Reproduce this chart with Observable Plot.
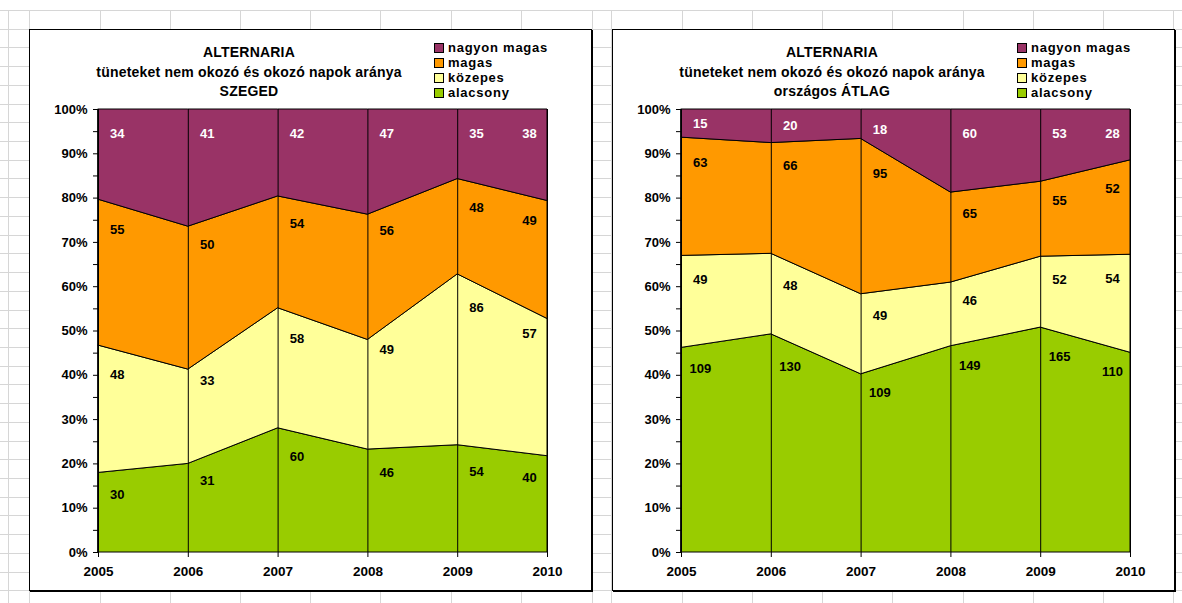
<!DOCTYPE html>
<html>
<head>
<meta charset="utf-8">
<script src="https://cdn.jsdelivr.net/npm/d3@7"></script>
<script src="https://cdn.jsdelivr.net/npm/@observablehq/plot@0.6"></script>
<style>
  html, body { margin: 0; padding: 0; background: #fff; }
  body { width: 1182px; height: 603px; position: relative; overflow: hidden;
         font-family: "Liberation Sans", Arial, sans-serif; }
  .hline { position: absolute; left: 0; width: 1182px; height: 1px; background: #d6d6d6; }
  .vline { position: absolute; top: 10px; width: 1px; height: 593px; background: #d6d6d6; }
  .box { position: absolute; top: 29px; width: 561px; height: 560px; background: #fff;
         border: 1px solid #000; box-shadow: 1px 1px 0 #000; }
  .title { position: absolute; left: 0; width: 438px; text-align: center; font-weight: bold;
           font-size: 14px; letter-spacing: 0.2px; line-height: 19.5px; top: 13px; color: #000; }
  .legend { position: absolute; left: 404px; top: 10px; font-weight: bold; font-size: 13px;
            letter-spacing: 0.75px; line-height: 15px; color: #000; }
  .legend .item { display: flex; align-items: center; white-space: nowrap; }
  .legend .sw { width: 8px; height: 8px; border: 1px solid #000; margin-right: 4px; }
  .box svg { position: absolute; left: 0; top: 0; }
</style>
</head>
<body>
<script>
// ---------- data ----------
const years = [2005, 2006, 2007, 2008, 2009, 2010];
const categories = ["alacsony", "közepes", "magas", "nagyon magas"]; // bottom -> top
const colors = ["#99CC00", "#FFFF99", "#FF9900", "#993366"];
const labelColors = ["#000", "#000", "#000", "#fff"];

const szegedAlacsony    = [30, 31, 60, 46, 54, 40];
const szegedKozepes     = [48, 33, 58, 49, 86, 57];
const szegedMagas       = [55, 50, 54, 56, 48, 49];
const szegedNagyonMagas = [34, 41, 42, 47, 35, 38];

const orszAlacsony    = [109, 130, 109, 149, 165, 110];
const orszKozepes     = [49, 48, 49, 46, 52, 54];
const orszMagas       = [63, 66, 95, 65, 55, 52];
const orszNagyonMagas = [15, 20, 18, 60, 53, 28];

const titleLine1 = "ALTERNARIA";
const titleLine2 = "tüneteket nem okozó és okozó napok aránya";
const panelNames = ["SZEGED", "országos ÁTLAG"];
const yTicks = [0, 0.1, 0.2, 0.3, 0.4, 0.5, 0.6, 0.7, 0.8, 0.9, 1];
const yMinorTicks = [0.05, 0.15, 0.25, 0.35, 0.45, 0.55, 0.65, 0.75, 0.85, 0.95];

const panels = [
  {name: panelNames[0], left: 29, series: [szegedAlacsony, szegedKozepes, szegedMagas, szegedNagyonMagas]},
  {name: panelNames[1], left: 612, series: [orszAlacsony, orszKozepes, orszMagas, orszNagyonMagas]}
];

// ---------- spreadsheet grid background ----------
const gridCols = [8, 29, 100, 170, 240, 310, 380, 451, 521, 592, 611, 682, 752, 822, 892, 963, 1033, 1103, 1173];
for (let y = 10; y < 603; y += 18.72) {
  const d = document.createElement("div"); d.className = "hline"; d.style.top = Math.round(y) + "px";
  document.body.appendChild(d);
}
for (const x of gridCols) {
  const d = document.createElement("div"); d.className = "vline"; d.style.left = x + "px";
  document.body.appendChild(d);
}

// ---------- panels ----------
const W = 561, H = 560, mL = 68, mR = 44, mT = 79, mB = 38;
const plotH = H - mT - mB;

for (const p of panels) {
  const rows = [];
  p.series.forEach((vals, i) => vals.forEach((v, j) => rows.push({year: years[j], cat: categories[i], value: v})));

  // label positions: derived from the stacked shares
  const totals = years.map((_, j) => d3.sum(p.series, s => s[j]));
  const cum = (i, j) => d3.sum(p.series.slice(0, i + 1), s => s[j]) / totals[j];
  const labels = [];
  p.series.forEach((vals, i) => vals.forEach((v, j) => {
    const last = j === years.length - 1;
    const f = last ? 0.2 : 0.21;
    const k = last ? j - 1 : j + 1;
    const top = cum(i, j) * (1 - f) + cum(i, k) * f;
    const bot = i === 0 ? 0 : cum(i - 1, j) * (1 - f) + cum(i - 1, k) * f;
    const yl = Math.max(top - 24 / plotH, (top + bot) / 2);
    labels.push({x: years[j] + (last ? -f : f), y: yl, text: String(v), color: labelColors[i]});
  }));

  const box = document.createElement("div");
  box.className = "box"; box.style.left = p.left + "px";
  document.body.appendChild(box);

  const title = document.createElement("div");
  title.className = "title";
  title.innerHTML = `${titleLine1}<br>${titleLine2}<br>${p.name}`;
  box.appendChild(title);

  const legend = document.createElement("div");
  legend.className = "legend";
  [...categories].reverse().forEach(c => {
    const it = document.createElement("div"); it.className = "item";
    const sw = document.createElement("span"); sw.className = "sw";
    sw.style.background = colors[categories.indexOf(c)];
    const t = document.createElement("span"); t.textContent = c;
    it.appendChild(sw); it.appendChild(t); legend.appendChild(it);
  });
  box.appendChild(legend);

  const chart = Plot.plot({
    width: W, height: H,
    marginLeft: mL, marginRight: mR, marginTop: mT, marginBottom: mB,
    style: {background: "transparent", fontFamily: '"Liberation Sans", Arial, sans-serif',
            fontSize: "13px", fontWeight: "bold", color: "#000", overflow: "visible"},
    x: {domain: [years[0], years[years.length - 1]], label: null},
    y: {domain: [0, 1], label: null},
    color: {domain: categories, range: colors},
    marks: [
      Plot.areaY(rows, Plot.stackY({x: "year", y: "value", z: "cat", fill: "cat",
        order: categories, offset: "normalize", stroke: "#000", strokeWidth: 1, curve: "linear"})),
      Plot.ruleX(years, {stroke: "#000", strokeWidth: 1}),
      Plot.axisY({ticks: yTicks, tickFormat: d3.format(".0%"), tickSize: 5, tickPadding: 6,
        label: null, fontSize: 13, fontWeight: "bold"}),
      Plot.axisY({ticks: yMinorTicks, tickFormat: () => "", tickSize: 5, label: null}),
      Plot.axisX({ticks: years, tickFormat: d3.format("d"), tickSize: 5, tickPadding: 9,
        label: null, fontSize: 13.5, fontWeight: "bold"}),
      Plot.text(labels, {x: "x", y: "y", text: "text", fill: "color",
        fontSize: 13, fontWeight: "bold", lineAnchor: "middle", textAnchor: "middle"})
    ]
  });
  box.appendChild(chart);
}
</script>
</body>
</html>
